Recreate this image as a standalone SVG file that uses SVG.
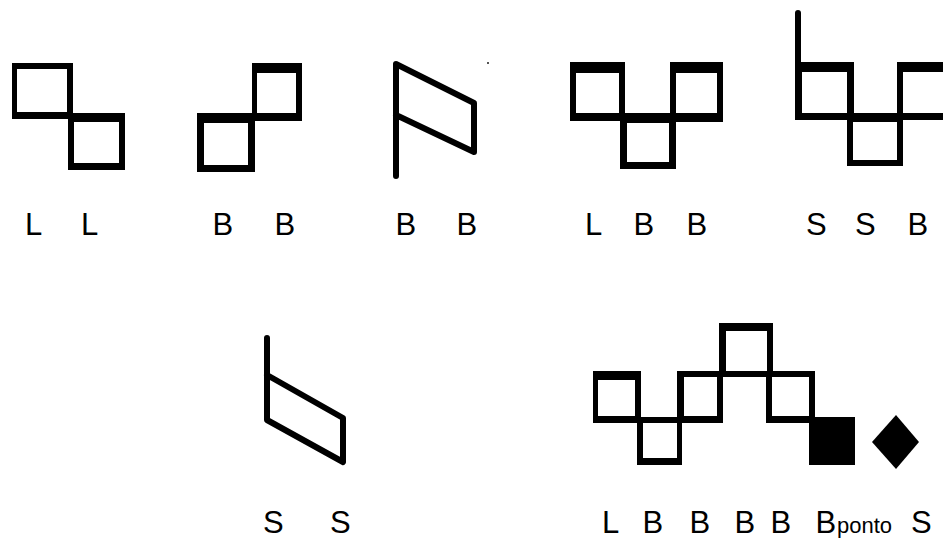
<svg xmlns="http://www.w3.org/2000/svg" width="943" height="540" viewBox="0 0 943 540">
<style>
.box{fill:#000;fill-rule:evenodd;stroke:none}
.ln{fill:none;stroke:#000;stroke-width:6;stroke-linecap:round;stroke-linejoin:round}
.lbl{font-family:"Liberation Sans",Arial,sans-serif;font-size:31px;fill:#000}
.sub{font-family:"Liberation Sans",Arial,sans-serif;font-size:22px;fill:#000}
</style>
<rect width="943" height="540" fill="#fff"/>
<g id="fig-LL">
<path class="box" d="M12 63H73V119H12Z M17 69V112H67V69Z"/>
<path class="box" d="M68 113H125V170H68Z M74 122V163H119V122Z"/>
<text class="lbl" x="25" y="235">L</text>
<text class="lbl" x="81" y="235">L</text>
</g>
<g id="fig-BB1">
<path class="box" d="M252 63H302V121H252Z M257 73V113H296V73Z"/>
<path class="box" d="M197 113H255V172H197Z M204 123V165H248V123Z"/>
<text class="lbl" x="212.5" y="235">B</text>
<text class="lbl" x="274.5" y="235">B</text>
</g>
<g id="fig-BB2">
<path class="ln" d="M396 176V64L474 103V152L396 115"/>
<rect x="487" y="62" width="2" height="2" fill="#555"/>
<text class="lbl" x="395.5" y="235">B</text>
<text class="lbl" x="456.5" y="235">B</text>
</g>
<g id="fig-LBB">
<path class="box" d="M570 62H625V121H570Z M576 73V113H619V73Z"/>
<path class="box" d="M620 113H676V169H620Z M627 123V162H669V123Z"/>
<path class="box" d="M670 62H723V122H670Z M676 73V113H717V73Z"/>
<text class="lbl" x="585" y="235">L</text>
<text class="lbl" x="633.5" y="235">B</text>
<text class="lbl" x="686.5" y="235">B</text>
</g>
<g id="fig-SSB">
<path class="ln" d="M798 13V100"/>
<path class="box" d="M795 62H854V120H795Z M802 72V113H847V72Z"/>
<path class="box" d="M847 113H903V166H847Z M853 122V160H897V122Z"/>
<path class="box" d="M897 62H950V120H897Z M903 72V113H950V72Z"/>
<text class="lbl" x="806" y="235">S</text>
<text class="lbl" x="855" y="235">S</text>
<text class="lbl" x="907.5" y="235">B</text>
</g>
<g id="fig-SS">
<path class="ln" d="M267 338V420L343 462V418L267 375"/>
<text class="lbl" x="263" y="533">S</text>
<text class="lbl" x="330" y="533">S</text>
</g>
<g id="fig-LBBBBBS">
<path class="box" d="M593 371H641V423H593Z M598 380V416H635V380Z"/>
<path class="box" d="M637 417H682V465H637Z M643 423V458H677V423Z"/>
<path class="box" d="M677 371H723V423H677Z M684 377V416H717V377Z"/>
<path class="box" d="M719 323H773V377H719Z M726 331V371H767V331Z"/>
<path class="box" d="M766 371H815V423H766Z M772 377V416H809V377Z"/>
<rect x="809" y="417" width="46" height="48" fill="#000"/>
<polygon points="896,415 919,442 896,469 872,442" fill="#000"/>
<text class="lbl" x="602" y="533">L</text>
<text class="lbl" x="642.5" y="533">B</text>
<text class="lbl" x="689.5" y="533">B</text>
<text class="lbl" x="734.5" y="533">B</text>
<text class="lbl" x="770.5" y="533">B</text>
<text class="lbl" x="815.5" y="533">B</text>
<text class="sub" x="837" y="533">ponto</text>
<text class="lbl" x="911" y="533">S</text>
</g>
</svg>
